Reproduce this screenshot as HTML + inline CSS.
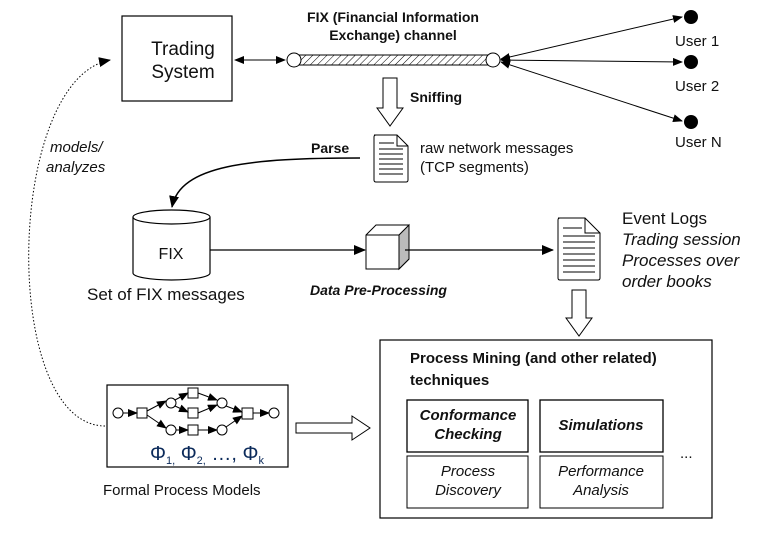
<!DOCTYPE html>
<html><head><meta charset="utf-8"><style>
body{margin:0;background:#fff}
text{font-family:"Liberation Sans",sans-serif;fill:#111}
</style></head><body>
<svg width="778" height="528" viewBox="0 0 778 528" xmlns="http://www.w3.org/2000/svg">
<defs>
<marker id="a" markerWidth="10" markerHeight="8" refX="9" refY="4" orient="auto" markerUnits="userSpaceOnUse"><path d="M0,0L10,4L0,8z" fill="#000"/></marker>
<marker id="as" markerWidth="12" markerHeight="10" refX="11" refY="5" orient="auto" markerUnits="userSpaceOnUse"><path d="M0,0L12,5L0,10z" fill="#000"/></marker>
<marker id="ar" markerWidth="10" markerHeight="8" refX="1" refY="4" orient="auto" markerUnits="userSpaceOnUse"><path d="M10,0L0,4L10,8z" fill="#000"/></marker>
<pattern id="h" width="5" height="5" patternUnits="userSpaceOnUse" patternTransform="rotate(45)"><line x1="0" y1="0" x2="0" y2="5" stroke="#000" stroke-width="1"/></pattern>
</defs>
<rect x="122" y="16" width="110" height="85" fill="#fff" stroke="#000" stroke-width="1.2"/>
<text x="183" y="55" font-size="19" text-anchor="middle">Trading</text>
<text x="183" y="78" font-size="19" text-anchor="middle">System</text>
<line x1="235" y1="60" x2="285" y2="60" stroke="#000" marker-start="url(#ar)" marker-end="url(#a)"/>
<rect x="294" y="55" width="198" height="10" fill="url(#h)" stroke="#000"/>
<circle cx="294" cy="60" r="7" fill="#fff" stroke="#000"/>
<circle cx="493" cy="60" r="7" fill="#fff" stroke="#000"/>
<text x="393" y="22" font-size="14" font-weight="bold" text-anchor="middle">FIX (Financial Information</text>
<text x="393" y="40" font-size="14" font-weight="bold" text-anchor="middle">Exchange) channel</text>
<line x1="501" y1="59" x2="682" y2="17" stroke="#000" marker-start="url(#ar)" marker-end="url(#a)"/>
<line x1="501" y1="60" x2="682" y2="62" stroke="#000" marker-start="url(#ar)" marker-end="url(#a)"/>
<line x1="501" y1="62" x2="682" y2="121" stroke="#000" marker-start="url(#ar)" marker-end="url(#a)"/>
<circle cx="691" cy="17" r="7" fill="#000"/>
<circle cx="691" cy="62" r="7" fill="#000"/>
<circle cx="691" cy="122" r="7" fill="#000"/>
<text x="675" y="46" font-size="15">User 1</text>
<text x="675" y="91" font-size="15">User 2</text>
<text x="675" y="147" font-size="15">User N</text>
<path d="M383,78V108H377L390,126L403,108H397V78Z" fill="#fff" stroke="#000"/>
<text x="410" y="102" font-size="14" font-weight="bold">Sniffing</text>
<path d="M374,135H397L408,146V180Q408,182 406,182H376Q374,182 374,180V137Q374,135 376,135Z" fill="#fff" stroke="#000"/>
<path d="M397,135V146H408" fill="none" stroke="#000"/>
<g stroke="#000"><line x1="379" y1="143" x2="394" y2="143"/><line x1="379" y1="149" x2="403" y2="149"/><line x1="379" y1="154" x2="403" y2="154"/><line x1="379" y1="159" x2="403" y2="159"/><line x1="379" y1="164" x2="403" y2="164"/><line x1="379" y1="169" x2="403" y2="169"/><line x1="379" y1="174" x2="403" y2="174"/></g>
<text x="420" y="153" font-size="15">raw network messages</text>
<text x="420" y="172" font-size="15">(TCP segments)</text>
<text x="311" y="153" font-size="14" font-weight="bold">Parse</text>
<path d="M360,158 C250,158 180,165 172,207" fill="none" stroke="#000" stroke-width="1.5" marker-end="url(#as)"/>
<path d="M133,217V273A38.5,7 0 0 0 210,273V217" fill="#fff" stroke="#000" stroke-width="1.2"/>
<ellipse cx="171.5" cy="217" rx="38.5" ry="7" fill="#fff" stroke="#000" stroke-width="1.2"/>
<text x="171" y="259" font-size="16" text-anchor="middle">FIX</text>
<text x="87" y="300" font-size="17">Set of FIX messages</text>
<line x1="210" y1="250" x2="365" y2="250" stroke="#000" stroke-width="1.2" marker-end="url(#as)"/>
<path d="M366,235L376,225H409V259L399,269H366Z" fill="#fff" stroke="#000"/>
<path d="M399,235L409,225V259L399,269Z" fill="#bbb" stroke="#000"/>
<path d="M366,235H399V269" fill="none" stroke="#000"/>
<line x1="405" y1="250" x2="553" y2="250" stroke="#000" stroke-width="1.2" marker-end="url(#as)"/>
<text x="310" y="295" font-size="14" font-weight="bold" font-style="italic">Data Pre-Processing</text>
<path d="M558,218H585L600,233V278Q600,280 598,280H560Q558,280 558,278V220Q558,218 560,218Z" fill="#fff" stroke="#000"/>
<path d="M585,218V233H600" fill="none" stroke="#000"/>
<g stroke="#000"><line x1="563" y1="228" x2="582" y2="228"/><line x1="563" y1="236" x2="595" y2="236"/><line x1="563" y1="242" x2="595" y2="242"/><line x1="563" y1="248" x2="595" y2="248"/><line x1="563" y1="254" x2="595" y2="254"/><line x1="563" y1="260" x2="595" y2="260"/><line x1="563" y1="266" x2="595" y2="266"/><line x1="563" y1="272" x2="595" y2="272"/></g>
<text x="622" y="224" font-size="17">Event Logs</text>
<text x="622" y="245" font-size="17" font-style="italic">Trading session</text>
<text x="622" y="266" font-size="17" font-style="italic">Processes over</text>
<text x="622" y="287" font-size="17" font-style="italic">order books</text>
<path d="M572,290V318H566L579,336L592,318H586V290Z" fill="#fff" stroke="#000"/>
<rect x="380" y="340" width="332" height="178" fill="#fff" stroke="#000" stroke-width="1.2"/>
<text x="410" y="363" font-size="15" font-weight="bold">Process Mining (and other related)</text>
<text x="410" y="385" font-size="15" font-weight="bold">techniques</text>
<rect x="407" y="400" width="121" height="52" fill="#fff" stroke="#000" stroke-width="1.3"/>
<rect x="540" y="400" width="123" height="52" fill="#fff" stroke="#000" stroke-width="1.3"/>
<rect x="407" y="456" width="121" height="52" fill="#fff" stroke="#000"/>
<rect x="540" y="456" width="123" height="52" fill="#fff" stroke="#000"/>
<text x="468" y="420" font-size="15" font-weight="bold" font-style="italic" text-anchor="middle">Conformance</text>
<text x="468" y="439" font-size="15" font-weight="bold" font-style="italic" text-anchor="middle">Checking</text>
<text x="601" y="430" font-size="15" font-weight="bold" font-style="italic" text-anchor="middle">Simulations</text>
<text x="468" y="476" font-size="15" font-style="italic" text-anchor="middle">Process</text>
<text x="468" y="495" font-size="15" font-style="italic" text-anchor="middle">Discovery</text>
<text x="601" y="476" font-size="15" font-style="italic" text-anchor="middle">Performance</text>
<text x="601" y="495" font-size="15" font-style="italic" text-anchor="middle">Analysis</text>
<text x="680" y="458" font-size="15">...</text>
<rect x="107" y="385" width="181" height="82" fill="#fff" stroke="#000" stroke-width="1.2"/>
<g fill="#fff" stroke="#000">
<circle cx="118" cy="413" r="5"/><rect x="137" y="408" width="10" height="10"/>
<circle cx="171" cy="403" r="5"/><rect x="188" y="388" width="10" height="10"/><rect x="188" y="408" width="10" height="10"/>
<circle cx="222" cy="403" r="5"/>
<circle cx="171" cy="430" r="5"/><rect x="188" y="425" width="10" height="10"/><circle cx="222" cy="430" r="5"/>
<rect x="242" y="408" width="11" height="11"/><circle cx="274" cy="413" r="5"/>
</g>
<g stroke="#000" marker-end="url(#a)">
<line x1="123" y1="413" x2="137" y2="413"/>
<line x1="147" y1="411" x2="166" y2="401"/>
<line x1="147" y1="415" x2="166" y2="428"/>
<line x1="175" y1="400" x2="188" y2="393"/>
<line x1="175" y1="406" x2="188" y2="412"/>
<line x1="198" y1="393" x2="217" y2="400"/>
<line x1="198" y1="413" x2="217" y2="405"/>
<line x1="176" y1="430" x2="188" y2="430"/>
<line x1="198" y1="430" x2="217" y2="430"/>
<line x1="226" y1="406" x2="242" y2="412"/>
<line x1="226" y1="427" x2="242" y2="416"/>
<line x1="253" y1="413" x2="269" y2="413"/>
</g>
<text x="150" y="460" font-size="20" font-family="Liberation Serif" style="fill:#0b2a5a">Φ<tspan font-size="11" dy="4">1,</tspan><tspan dy="-4"> Φ</tspan><tspan font-size="11" dy="4">2,</tspan><tspan dy="-4"> …, Φ</tspan><tspan font-size="11" dy="4">k</tspan></text>
<text x="103" y="495" font-size="15">Formal Process Models</text>
<path d="M296,423H352V416L370,428L352,440V433H296Z" fill="#fff" stroke="#000"/>
<path d="M105,426 C0,425 5,80 110,60" fill="none" stroke="#000" stroke-dasharray="1.5,2" marker-end="url(#as)"/>
<text x="50" y="152" font-size="15" font-style="italic">models/</text>
<text x="46" y="172" font-size="15" font-style="italic">analyzes</text>
</svg>
</body></html>
